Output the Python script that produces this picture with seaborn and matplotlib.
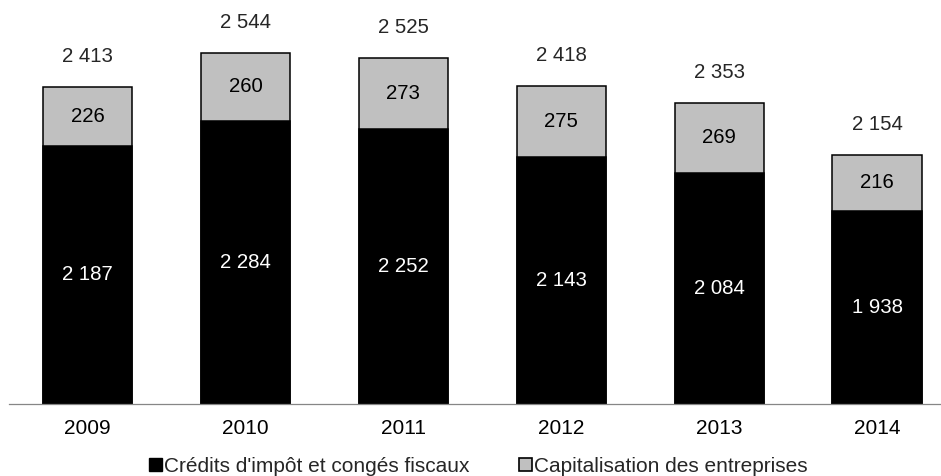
import numpy as np
import pandas as pd
import seaborn as sns
import matplotlib.pyplot as plt
from matplotlib.patches import Patch

# données
annees = ['2009', '2010', '2011', '2012', '2013', '2014']
credits = [2187, 2284, 2252, 2143, 2084, 1938]
capital = [226, 260, 273, 275, 269, 216]
totaux = [2413, 2544, 2525, 2418, 2353, 2154]
legende = ["Crédits d'impôt et congés fiscaux", "Capitalisation des entreprises"]

sns.set_theme(style='white')
plt.rcParams['font.family'] = ['Liberation Sans', 'DejaVu Sans']

df = pd.DataFrame({'annee': annees, 'credits': credits, 'capital': capital, 'total': totaux})

def fmt(v):
    return f"{v:,}".replace(',', ' ')

fig = plt.figure(figsize=(9.41, 4.76), dpi=100)
ax = fig.add_axes([8.5 / 941, 1 - 404 / 476, 947.5 / 941, 404 / 476])

# barre totale grise puis partie noire par-dessus
sns.barplot(data=df, x='annee', y='total', color='#c0c0c0', edgecolor='black',
            linewidth=1.1, width=0.565, saturation=1, ax=ax)
sns.barplot(data=df, x='annee', y='credits', color='black', edgecolor='black',
            linewidth=1.1, width=0.565, saturation=1, ax=ax)

ymin = 1200
ax.set_ylim(ymin, 2745)
ax.set_xlim(-0.5, 5.5)

for i in range(len(annees)):
    ax.text(i, (ymin + credits[i]) / 2, fmt(credits[i]), color='white',
            ha='center', va='center', fontsize=14.7)
    ax.text(i, credits[i] + capital[i] / 2, fmt(capital[i]), color='black',
            ha='center', va='center', fontsize=14.7)
    ax.annotate(fmt(totaux[i]), (i, totaux[i]), xytext=(0, 21.6),
                textcoords='offset points', ha='center', va='center', fontsize=14.7)

ax.set_xlabel('')
ax.set_ylabel('')
ax.set_yticks([])
for s in ['top', 'right', 'left']:
    ax.spines[s].set_visible(False)
ax.spines['bottom'].set_color('#868686')
ax.spines['bottom'].set_linewidth(0.9)
ax.tick_params(axis='x', length=0, pad=10.5, labelsize=15, colors='black')

handles = [Patch(facecolor='black', edgecolor='black'),
           Patch(facecolor='#c0c0c0', edgecolor='black', linewidth=1.2)]
fig.legend(handles, legende, loc='center', bbox_to_anchor=(478.5 / 941, 1 - 466 / 476),
           ncol=2, frameon=False, fontsize=15, handlelength=0.6, handleheight=0.6,
           handletextpad=0.1, columnspacing=2.4)

fig.savefig('out.png', dpi=100)
